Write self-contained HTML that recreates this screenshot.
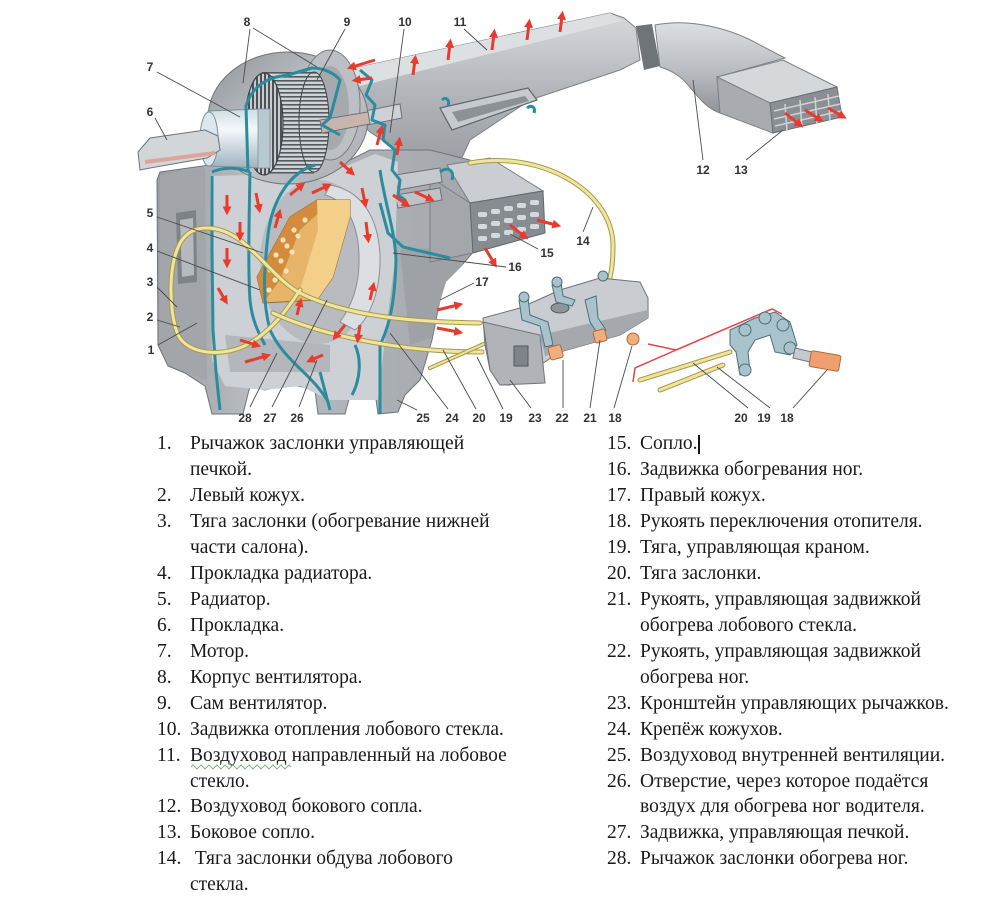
<!DOCTYPE html>
<html><head><meta charset="utf-8">
<style>
html,body{margin:0;padding:0;background:#fff;}
body{width:1000px;height:891px;position:relative;overflow:hidden;}
.l{position:absolute;font-family:"Liberation Serif","Noto Serif CJK SC",serif;font-size:19.5px;line-height:26px;height:26px;color:#1a1a1a;white-space:pre;}
</style></head><body>
<svg width="1000" height="430" viewBox="0 0 1000 430" style="position:absolute;left:0;top:0">
<defs>
<marker id="ah" viewBox="0 0 10 10" refX="4" refY="5" markerWidth="3" markerHeight="3" orient="auto"><path d="M0,0 L10,5 L0,10 z" fill="#e63b2e"/></marker>
<linearGradient id="gDuct" x1="0" y1="0" x2="0" y2="1"><stop offset="0" stop-color="#d6d9dc"/><stop offset="0.5" stop-color="#b3b7bb"/><stop offset="1" stop-color="#9a9ea3"/></linearGradient>
<linearGradient id="gTube" x1="0" y1="0" x2="0" y2="1"><stop offset="0" stop-color="#dcdfe2"/><stop offset="0.6" stop-color="#b4b8bc"/><stop offset="1" stop-color="#8f9499"/></linearGradient>
<linearGradient id="gHouse" x1="0" y1="0" x2="1" y2="1"><stop offset="0" stop-color="#8f9499"/><stop offset="0.5" stop-color="#c3c6ca"/><stop offset="1" stop-color="#a9adb1"/></linearGradient>
<linearGradient id="gMotor" x1="0" y1="0" x2="0" y2="1"><stop offset="0" stop-color="#cfdde5"/><stop offset="0.35" stop-color="#f4f8fa"/><stop offset="1" stop-color="#9fb3be"/></linearGradient>
<linearGradient id="gCase" x1="0" y1="0" x2="1" y2="0"><stop offset="0" stop-color="#9a9ea3"/><stop offset="0.3" stop-color="#b9bdc1"/><stop offset="1" stop-color="#a3a7ab"/></linearGradient>
<pattern id="pFan" width="4" height="4" patternUnits="userSpaceOnUse"><rect width="4" height="4" fill="#c8cbcf"/><rect width="2" height="4" fill="#4d5257"/></pattern>
<pattern id="pFanH" width="4" height="4" patternUnits="userSpaceOnUse"><rect width="4" height="4" fill="#d0d3d6"/><rect width="4" height="1.6" fill="#555a60"/></pattern>
</defs>

<!-- Duct 11 -->
<polygon points="345,70 610,13 624,18 636,28 640,60 620,70 590,80 560,90 530,100 500,120 470,140 460,162 430,166 400,152 370,132 350,112" fill="url(#gDuct)" stroke="#7d8287" stroke-width="1"/>
<polygon points="345,70 610,13 622,21 360,86" fill="#dde0e3"/>
<polygon points="440,108 528,88 537,100 452,130" fill="#c6c9cd" stroke="#60656a" stroke-width="1.2"/>
<polygon points="452,112 525,96 529,101 458,122" fill="#8c9196"/>
<!-- tube junction ring -->
<polygon points="636,26 652,24 660,66 644,70" fill="#6f7479"/>
<!-- Tube 12 -->
<path d="M655,25 C690,18 730,28 760,45 L785,58 L717,77 L720,113 C705,108 697,95 688,85 C680,75 670,70 660,67 Z" fill="url(#gTube)" stroke="#7d8287" stroke-width="1"/>
<!-- Box 13 -->
<polygon points="717,77 783,60 837,87 770,103" fill="#d5d8db" stroke="#7d8287" stroke-width="1"/>
<polygon points="717,77 770,103 773,133 720,113" fill="#a8acb0" stroke="#7d8287" stroke-width="1"/>
<polygon points="770,103 837,87 842,117 773,133" fill="#8a8f94" stroke="#6a6f74" stroke-width="1"/>
<g stroke="#cfd2d5" stroke-width="1.5"><line x1="774" y1="111" x2="839" y2="96"/><line x1="774" y1="119" x2="840" y2="104"/><line x1="775" y1="126" x2="841" y2="111"/><line x1="785" y1="104" x2="787" y2="131"/><line x1="800" y1="100" x2="802" y2="128"/><line x1="815" y1="97" x2="817" y2="124"/><line x1="828" y1="94" x2="830" y2="121"/></g>

<!-- Case body -->
<polygon points="160,172 210,165 330,170 370,150 430,150 470,160 475,250 462,265 445,280 440,300 432,340 420,380 405,395 398,412 378,414 375,392 350,395 345,414 318,414 315,390 290,384 265,390 250,386 243,414 212,414 205,386 185,373 168,366 158,345 157,180" fill="url(#gCase)" stroke="#6f7479" stroke-width="1"/>
<polygon points="160,175 205,168 207,380 185,372 168,365 159,345" fill="#a2a6aa"/>
<polygon points="176,213 196,210 197,282 178,284" fill="#7e8388"/>
<polygon points="180,220 193,218 194,275 182,277" fill="#b6babe"/>
<!-- right shroud 17 -->
<polygon points="400,250 470,246 462,266 446,282 440,302 431,338 410,345" fill="#9ea2a7"/>
<!-- Nozzle 15 -->
<polygon points="447,165 490,158 543,191 470,203" fill="#cacdd1" stroke="#7a7f84" stroke-width="1"/>
<polygon points="430,177 470,203 473,253 430,262" fill="#a3a7ab" stroke="#7a7f84" stroke-width="1"/>
<polygon points="470,203 543,191 545,233 473,253" fill="#878c91" stroke="#62676c" stroke-width="1"/>
<g fill="#d6d9dc"><rect x="478" y="212" width="9" height="5" rx="2"/><rect x="491" y="209" width="9" height="5" rx="2"/><rect x="504" y="206" width="9" height="5" rx="2"/><rect x="517" y="203" width="9" height="5" rx="2"/><rect x="530" y="200" width="9" height="5" rx="2"/><rect x="478" y="224" width="9" height="5" rx="2"/><rect x="491" y="221" width="9" height="5" rx="2"/><rect x="504" y="218" width="9" height="5" rx="2"/><rect x="517" y="215" width="9" height="5" rx="2"/><rect x="530" y="212" width="9" height="5" rx="2"/><rect x="478" y="236" width="9" height="5" rx="2"/><rect x="491" y="233" width="9" height="5" rx="2"/><rect x="504" y="230" width="9" height="5" rx="2"/><rect x="517" y="227" width="9" height="5" rx="2"/><rect x="530" y="224" width="9" height="5" rx="2"/></g>
<!-- middle slots near 10 -->
<polygon points="395,175 440,168 442,182 398,190" fill="#c5c8cc" stroke="#6d7277" stroke-width="1"/>
<polygon points="395,195 440,188 442,200 398,208" fill="#bfc2c6" stroke="#6d7277" stroke-width="1"/>
<polygon points="360,112 400,104 402,118 362,126" fill="#cfd2d5" stroke="#6d7277" stroke-width="1"/>

<!-- Inner chamber -->
<polygon points="210,176 330,173 375,154 398,162 395,260 386,330 378,400 330,400 300,386 265,390 225,386 212,360" fill="#cdd0d4"/>
<ellipse cx="318" cy="262" rx="58" ry="82" fill="#b8bcc0"/>
<path d="M330,185 C360,190 378,215 380,255 C381,290 370,318 355,330 L340,322 C352,305 360,285 359,255 C358,222 345,200 325,195 Z" fill="#dcdfe2" stroke="#8a8f94" stroke-width="1"/>
<polygon points="225,335 330,345 330,372 230,372" fill="#b3b7bb"/>
<!-- Radiator -->
<polygon points="257,277 290,217 317,200 350,200 350,217 333,277 317,300 263,303" fill="#e7b56a" stroke="#9a6a30" stroke-width="1"/>
<polygon points="257,277 290,217 317,200 322,210 300,230 280,280 263,303" fill="#d48c3c"/>
<polygon points="317,200 350,200 350,217 333,277 317,300 300,290 318,230" fill="#f3cf8a"/>
<g fill="#f6e2b8"><circle cx="283" cy="240" r="2.6"/><circle cx="294" cy="230" r="2.6"/><circle cx="305" cy="220" r="2.6"/><circle cx="276" cy="255" r="2.6"/><circle cx="287" cy="246" r="2.6"/><circle cx="298" cy="236" r="2.6"/><circle cx="270" cy="270" r="2.6"/><circle cx="281" cy="261" r="2.6"/><circle cx="292" cy="252" r="2.6"/><circle cx="275" cy="280" r="2.6"/><circle cx="286" cy="271" r="2.6"/><circle cx="269" cy="290" r="2.6"/></g>

<!-- Fan housing -->
<ellipse cx="288" cy="118" rx="80" ry="66" fill="url(#gHouse)" stroke="#6f7479" stroke-width="1"/>
<ellipse cx="330" cy="105" rx="30" ry="55" fill="#bcc0c4" stroke="#7a7f84" stroke-width="1"/>
<ellipse cx="330" cy="108" rx="19" ry="42" fill="#a6aaae"/>
<!-- fan cage -->
<rect x="262" y="72" width="52" height="102" fill="url(#pFanH)"/>
<ellipse cx="314" cy="122" rx="15" ry="50" fill="url(#pFanH)" stroke="#3f444a" stroke-width="1"/>
<ellipse cx="264" cy="124" rx="19" ry="51" fill="url(#pFan)" stroke="#3f444a" stroke-width="1.2"/>
<!-- shaft rod -->
<polygon points="320,120 368,112 370,124 322,133" fill="#c9b4ae" stroke="#6f7479" stroke-width="1"/>
<!-- motor -->
<path d="M208,111 L262,109 L270,115 L270,164 L262,168 L208,166 Z" fill="url(#gMotor)" stroke="#7d8f99" stroke-width="1"/>
<rect x="258" y="109" width="12" height="59" fill="#b9c9d2" stroke="#7d8f99" stroke-width="0.8"/>
<ellipse cx="209" cy="139" rx="9" ry="27" fill="#dbe7ed" stroke="#7d8f99" stroke-width="1"/>
<!-- bracket 6 -->
<polygon points="138,152 150,138 205,130 218,136 220,150 207,158 150,168 140,170" fill="#d3d6d9" stroke="#6f7479" stroke-width="1"/>
<line x1="145" y1="162" x2="215" y2="153" stroke="#dba59c" stroke-width="4"/>

<!-- blue outlines -->
<g fill="none" stroke="#2b8c9f" stroke-width="3" stroke-linejoin="round">
<path d="M212,176 L212,250 L213,330 L216,372 L220,410"/>
<path d="M250,172 C249,220 248,270 250,300 C252,320 258,332 265,345"/>
<path d="M315,165 C290,172 272,200 268,235 C264,270 262,300 270,330 C285,362 310,372 327,400"/>
<path d="M380,170 C384,200 395,230 396,260 C395,300 390,325 380,345 L380,414"/>
<path d="M248,172 L246,106 C252,86 268,77 288,75 L312,68 C325,68 335,74 340,80 L330,118 L322,125 L340,135"/>
<path d="M360,70 L372,80 L366,95 L375,105 L372,120 L385,125 L383,140 L395,150 L392,170 L400,180 L398,195 L405,200"/>
<path d="M380,203 L388,233 L403,247 L450,258"/>
<path d="M212,172 C225,166 240,168 250,172"/>
<path d="M440,172 C447,166 455,170 452,180"/>
<path d="M527,108 C532,104 536,108 534,113" />
<path d="M442,100 C446,96 450,100 448,106"/>
<path d="M320,372 L330,410"/>
<path d="M355,345 C362,360 360,380 352,395"/>
</g>

<!-- yellow cables -->
<g fill="none" stroke-linecap="round">
<path id="c1" d="M480,323 C420,322 350,318 300,293 C280,283 260,255 240,240 C220,226 195,222 182,240 C168,260 168,310 178,335 C188,355 225,358 250,343 C275,328 290,305 300,290" stroke="#a89a48" stroke-width="5"/>
<path d="M480,323 C420,322 350,318 300,293 C280,283 260,255 240,240 C220,226 195,222 182,240 C168,260 168,310 178,335 C188,355 225,358 250,343 C275,328 290,305 300,290" stroke="#efe4a0" stroke-width="3"/>
<path d="M273,313 C320,335 400,352 482,352" stroke="#a89a48" stroke-width="5"/>
<path d="M273,313 C320,335 400,352 482,352" stroke="#efe4a0" stroke-width="3"/>
<path d="M470,163 C540,150 612,190 613,245 C613,265 611,275 608,285" stroke="#a89a48" stroke-width="5"/>
<path d="M470,163 C540,150 612,190 613,245 C613,265 611,275 608,285" stroke="#efe4a0" stroke-width="3"/>
<path d="M430,368 L486,343" stroke="#a89a48" stroke-width="4"/>
<path d="M430,368 L486,343" stroke="#efe4a0" stroke-width="2"/>
<path d="M640,380 L730,352" stroke="#a89a48" stroke-width="5"/>
<path d="M640,380 L730,352" stroke="#efe4a0" stroke-width="3"/>
<path d="M660,390 L723,365" stroke="#a89a48" stroke-width="5"/>
<path d="M660,390 L723,365" stroke="#efe4a0" stroke-width="3"/>
</g>

<!-- control block 23 -->
<polygon points="483,318 520,308 560,290 600,278 640,282 648,298 648,318 620,335 560,352 510,385 500,385 490,370 485,345" fill="#c9ccd0" stroke="#6f7479" stroke-width="1"/>
<polygon points="483,322 540,335 545,383 500,385 490,370" fill="#b0b4b8" stroke="#6f7479" stroke-width="1"/>
<rect x="514" y="346" width="14" height="20" fill="#7f8489" stroke="#55595e" stroke-width="1"/>
<polygon points="540,335 648,310 648,318 620,335 560,352 545,356" fill="#a5a9ad"/>
<ellipse cx="560" cy="308" rx="9" ry="5" fill="#8f9499" stroke="#55595e" stroke-width="1"/>
<g fill="#a9c3cc" stroke="#4e6f7a" stroke-width="1">
<path d="M519,300 L528,298 L530,315 L548,322 L553,345 L545,347 L540,326 L522,320 Z"/>
<path d="M552,285 L561,283 L563,296 L575,300 L572,306 L556,302 Z"/>
<path d="M585,300 L596,296 L598,318 L606,330 L598,334 L590,322 Z"/>
<circle cx="524" cy="297" r="5"/><circle cx="557" cy="282" r="5"/><circle cx="603" cy="276" r="5"/>
</g>
<g fill="#f0ad7e" stroke="#b26a3c" stroke-width="1">
<rect x="549" y="346" width="13" height="13" rx="2" transform="rotate(-15 555 352)"/>
<rect x="594" y="330" width="12" height="12" rx="2" transform="rotate(-15 600 336)"/>
<circle cx="633" cy="339" r="6"/>
</g>

<!-- red break line -->
<path d="M633,382 L635,368 L676,350 L648,344 M676,350 L772,309 L782,314" fill="none" stroke="#e0474a" stroke-width="1.5"/>

<!-- right mechanism -->
<g fill="#a9c3cc" stroke="#4e6f7a" stroke-width="1">
<path d="M730,330 L755,318 L775,312 L790,322 L797,345 L790,355 L775,352 L770,335 L755,340 L748,352 L750,372 L740,375 L736,352 L730,345 Z"/>
<circle cx="745" cy="330" r="6"/><circle cx="765" cy="318" r="6"/><circle cx="783" cy="325" r="6"/><circle cx="790" cy="348" r="6"/><circle cx="745" cy="370" r="6"/>
</g>
<polygon points="795,348 812,352 810,362 793,358" fill="#c5c8cc" stroke="#6f7479" stroke-width="1"/>
<rect x="810" y="353" width="30" height="16" rx="2" fill="#f0a070" stroke="#b26a3c" stroke-width="1" transform="rotate(10 825 361)"/>

<!-- red arrows -->
<g fill="none" stroke="#e63b2e" stroke-width="3" marker-end="url(#ah)">
<line x1="413" y1="75" x2="415" y2="60"/><line x1="448" y1="60" x2="450" y2="44"/><line x1="492" y1="50" x2="494" y2="34"/><line x1="527" y1="40" x2="529" y2="24"/><line x1="560" y1="32" x2="562" y2="16"/>
<line x1="375" y1="60" x2="352" y2="67"/><line x1="372" y1="78" x2="357" y2="80"/>
<line x1="377" y1="145" x2="381" y2="130"/><line x1="397" y1="155" x2="399" y2="142"/>
<line x1="227" y1="195" x2="227" y2="210"/><line x1="256" y1="193" x2="259" y2="208"/><line x1="240" y1="222" x2="240" y2="236"/><line x1="227" y1="248" x2="227" y2="263"/><line x1="218" y1="288" x2="225" y2="300"/>
<line x1="240" y1="340" x2="256" y2="345"/><line x1="245" y1="362" x2="266" y2="356"/>
<line x1="275" y1="228" x2="279" y2="214"/><line x1="290" y1="195" x2="301" y2="186"/><line x1="312" y1="193" x2="327" y2="186"/><line x1="340" y1="162" x2="351" y2="172"/>
<line x1="362" y1="188" x2="365" y2="203"/><line x1="366" y1="222" x2="368" y2="238"/><line x1="370" y1="300" x2="373" y2="287"/><line x1="360" y1="325" x2="358" y2="338"/><line x1="345" y1="325" x2="336" y2="336"/><line x1="323" y1="355" x2="311" y2="360"/><line x1="297" y1="315" x2="300" y2="303"/>
<line x1="393" y1="195" x2="406" y2="204"/><line x1="415" y1="192" x2="430" y2="199"/>
<line x1="437" y1="310" x2="458" y2="305"/><line x1="437" y1="328" x2="458" y2="332"/>
<line x1="537" y1="220" x2="556" y2="225"/><line x1="510" y1="225" x2="524" y2="236"/><line x1="485" y1="248" x2="494" y2="263"/>
<line x1="785" y1="113" x2="799" y2="124"/><line x1="805" y1="110" x2="819" y2="119"/><line x1="828" y1="108" x2="842" y2="116"/>
</g>

<!-- leader lines -->
<g stroke="#4a4a4a" stroke-width="0.9" fill="none">
<line x1="250" y1="29" x2="243" y2="83"/><line x1="253" y1="28" x2="317" y2="67"/>
<line x1="345" y1="29" x2="317" y2="80"/><line x1="404" y1="29" x2="390" y2="133"/><line x1="464" y1="29" x2="487" y2="50"/>
<line x1="157" y1="72" x2="240" y2="117"/><line x1="155" y1="118" x2="167" y2="140"/>
<line x1="157" y1="217" x2="263" y2="253"/><line x1="157" y1="251" x2="260" y2="290"/><line x1="157" y1="287" x2="177" y2="307"/><line x1="157" y1="320" x2="180" y2="327"/><line x1="158" y1="345" x2="197" y2="323"/>
<line x1="250" y1="407" x2="277" y2="353"/><line x1="272" y1="407" x2="327" y2="300"/><line x1="299" y1="407" x2="317" y2="360"/>
<line x1="417" y1="410" x2="397" y2="400"/><line x1="448" y1="409" x2="390" y2="333"/><line x1="476" y1="409" x2="443" y2="350"/><line x1="503" y1="409" x2="477" y2="357"/>
<line x1="531" y1="408" x2="510" y2="380"/><line x1="563" y1="408" x2="563" y2="360"/><line x1="590" y1="408" x2="600" y2="340"/><line x1="614" y1="408" x2="632" y2="346"/>
<line x1="474" y1="283" x2="440" y2="300"/><line x1="506" y1="267" x2="393" y2="253"/><line x1="538" y1="249" x2="510" y2="234"/><line x1="583" y1="232" x2="593" y2="207"/>
<line x1="703" y1="160" x2="693" y2="80"/><line x1="746" y1="160" x2="783" y2="130"/>
<line x1="748" y1="408" x2="693" y2="363"/><line x1="770" y1="408" x2="717" y2="367"/><line x1="793" y1="408" x2="827" y2="370"/>
</g>

<!-- labels -->
<g font-family="Liberation Sans, Arial, sans-serif" font-weight="bold" font-size="12" fill="#333" text-anchor="middle">
<text x="247" y="26">8</text><text x="347" y="26">9</text><text x="405" y="26">10</text><text x="460" y="26">11</text>
<text x="150" y="71">7</text><text x="150" y="116">6</text><text x="150" y="217">5</text><text x="150" y="252">4</text><text x="150" y="286">3</text><text x="150" y="321">2</text><text x="151" y="354">1</text>
<text x="703" y="174">12</text><text x="741" y="174">13</text><text x="583" y="245">14</text><text x="547" y="257">15</text><text x="515" y="271">16</text><text x="482" y="286">17</text>
<text x="245" y="422">28</text><text x="270" y="422">27</text><text x="297" y="422">26</text><text x="423" y="422">25</text><text x="452" y="422">24</text><text x="479" y="422">20</text><text x="506" y="422">19</text><text x="535" y="422">23</text><text x="562" y="422">22</text><text x="590" y="422">21</text><text x="615" y="422">18</text>
<text x="741" y="422">20</text><text x="764" y="422">19</text><text x="787" y="422">18</text>
</g>
</svg>

<!-- Left column -->
<div class="l" style="left:157px;top:431px">1.</div><div class="l" style="left:190px;top:431px">Рычажок заслонки управляющей</div>
<div class="l" style="left:190px;top:457px">печкой.</div>
<div class="l" style="left:157px;top:483px">2.</div><div class="l" style="left:190px;top:483px">Левый кожух.</div>
<div class="l" style="left:157px;top:509px">3.</div><div class="l" style="left:190px;top:509px">Тяга заслонки (обогревание нижней</div>
<div class="l" style="left:190px;top:535px">части салона).</div>
<div class="l" style="left:157px;top:561px">4.</div><div class="l" style="left:190px;top:561px">Прокладка радиатора.</div>
<div class="l" style="left:157px;top:587px">5.</div><div class="l" style="left:190px;top:587px">Радиатор.</div>
<div class="l" style="left:157px;top:613px">6.</div><div class="l" style="left:190px;top:613px">Прокладка.</div>
<div class="l" style="left:157px;top:639px">7.</div><div class="l" style="left:190px;top:639px">Мотор.</div>
<div class="l" style="left:157px;top:665px">8.</div><div class="l" style="left:190px;top:665px">Корпус вентилятора.</div>
<div class="l" style="left:157px;top:691px">9.</div><div class="l" style="left:190px;top:691px">Сам вентилятор.</div>
<div class="l" style="left:157px;top:717px">10.</div><div class="l" style="left:190px;top:717px">Задвижка отопления лобового стекла.</div>
<div class="l" style="left:157px;top:743px">11.</div><div class="l" style="left:190px;top:743px">Воздуховод направленный на лобовое</div>
<div class="l" style="left:190px;top:769px">стекло.</div>
<div class="l" style="left:157px;top:794px">12.</div><div class="l" style="left:190px;top:794px">Воздуховод бокового сопла.</div>
<div class="l" style="left:157px;top:820px">13.</div><div class="l" style="left:190px;top:820px">Боковое сопло.</div>
<div class="l" style="left:157px;top:846px">14.</div><div class="l" style="left:190px;top:846px"> Тяга заслонки обдува лобового</div>
<div class="l" style="left:190px;top:872px">стекла.</div>
<svg width="104" height="6" style="position:absolute;left:191px;top:764px"><polyline points="0,3 2,1 4,3 6,5 8,3 10,1 12,3 14,5 16,3 18,1 20,3 22,5 24,3 26,1 28,3 30,5 32,3 34,1 36,3 38,5 40,3 42,1 44,3 46,5 48,3 50,1 52,3 54,5 56,3 58,1 60,3 62,5 64,3 66,1 68,3 70,5 72,3 74,1 76,3 78,5 80,3 82,1 84,3 86,5 88,3 90,1 92,3 94,5 96,3 98,1 100,3" fill="none" stroke="#7fb77f" stroke-width="1"/></svg>

<!-- Right column -->
<div class="l" style="left:607px;top:431px">15.</div><div class="l" style="left:640px;top:431px">Сопло.</div>
<div style="position:absolute;left:698px;top:435px;width:2px;height:19px;background:#111"></div>
<div class="l" style="left:607px;top:457px">16.</div><div class="l" style="left:640px;top:457px">Задвижка обогревания ног.</div>
<div class="l" style="left:607px;top:483px">17.</div><div class="l" style="left:640px;top:483px">Правый кожух.</div>
<div class="l" style="left:607px;top:509px">18.</div><div class="l" style="left:640px;top:509px">Рукоять переключения отопителя.</div>
<div class="l" style="left:607px;top:535px">19.</div><div class="l" style="left:640px;top:535px">Тяга, управляющая краном.</div>
<div class="l" style="left:607px;top:561px">20.</div><div class="l" style="left:640px;top:561px">Тяга заслонки.</div>
<div class="l" style="left:607px;top:587px">21.</div><div class="l" style="left:640px;top:587px">Рукоять, управляющая задвижкой</div>
<div class="l" style="left:640px;top:613px">обогрева лобового стекла.</div>
<div class="l" style="left:607px;top:639px">22.</div><div class="l" style="left:640px;top:639px">Рукоять, управляющая задвижкой</div>
<div class="l" style="left:640px;top:665px">обогрева ног.</div>
<div class="l" style="left:607px;top:691px">23.</div><div class="l" style="left:640px;top:691px">Кронштейн управляющих рычажков.</div>
<div class="l" style="left:607px;top:717px">24.</div><div class="l" style="left:640px;top:717px">Крепёж кожухов.</div>
<div class="l" style="left:607px;top:743px">25.</div><div class="l" style="left:640px;top:743px">Воздуховод внутренней вентиляции.</div>
<div class="l" style="left:607px;top:769px">26.</div><div class="l" style="left:640px;top:769px">Отверстие, через которое подаётся</div>
<div class="l" style="left:640px;top:794px">воздух для обогрева ног водителя.</div>
<div class="l" style="left:607px;top:820px">27.</div><div class="l" style="left:640px;top:820px">Задвижка, управляющая печкой.</div>
<div class="l" style="left:607px;top:846px">28.</div><div class="l" style="left:640px;top:846px">Рычажок заслонки обогрева ног.</div>
</body></html>
